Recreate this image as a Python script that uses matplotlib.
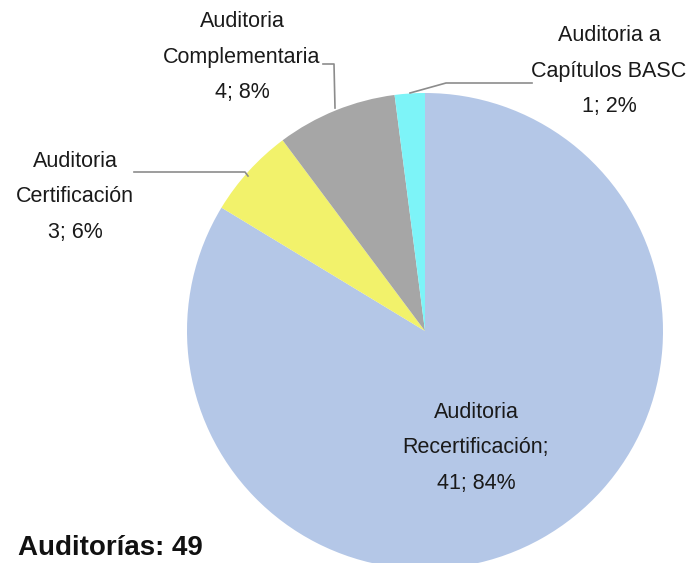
import matplotlib.pyplot as plt

# Data
categories = ['Auditoria Recertificación', 'Auditoria Certificación',
              'Auditoria Complementaria', 'Auditoria a Capítulos BASC']
values = [41, 3, 4, 1]
percents = [84, 6, 8, 2]
colors = ['#B4C7E7', '#F2F26B', '#A6A6A6', '#7DF4F8']
total = sum(values)

plt.rcParams['font.family'] = ['Liberation Sans', 'DejaVu Sans']

fig = plt.figure(figsize=(6.86, 5.63), dpi=100)
W, H = 686, 563

# pie area in pixels: center (425, 331), radius 238
cx, cy, r = 425, 331, 238
ax = fig.add_axes([(cx - r) / W, (H - cy - r) / H, 2 * r / W, 2 * r / H])
ax.pie(values, colors=colors, startangle=90, counterclock=False,
       wedgeprops=dict(linewidth=0))
ax.set_aspect('equal')
ax.set_xlim(-1, 1)
ax.set_ylim(-1, 1)
ax.axis('off')

def px(x, y):
    return x / W, 1 - y / H

lbl = dict(ha='center', va='center', fontsize=15.5, linespacing=1.9, color='#1a1a1a')

fig.text(*px(476, 448), f"Auditoria\nRecertificación;\n{values[0]}; {percents[0]}%", **lbl)
fig.text(*px(75, 197), f"Auditoria\nCertificación\n{values[1]}; {percents[1]}%", **lbl)
fig.text(*px(242, 57), f"Auditoria\nComplementaria\n{values[2]}; {percents[2]}%", **lbl)
fig.text(*px(609, 71), f"Auditoria a\nCapítulos BASC\n{values[3]}; {percents[3]}%", **lbl)

# leader lines
lc = '#8c8c8c'
def leader(pts):
    xs = [px(x, y)[0] for x, y in pts]
    ys = [px(x, y)[1] for x, y in pts]
    fig.add_artist(plt.Line2D(xs, ys, color=lc, linewidth=1.2))

leader([(134, 172), (245, 172), (248, 176)])
leader([(323, 64), (334, 64), (335, 108)])
leader([(410, 93), (446, 83), (532, 83)])

fig.text(*px(18, 548), f"Auditorías: {total}", ha='left', va='center',
         fontsize=20, fontweight='bold', color='#111111')

fig.savefig('out.png', dpi=100)
